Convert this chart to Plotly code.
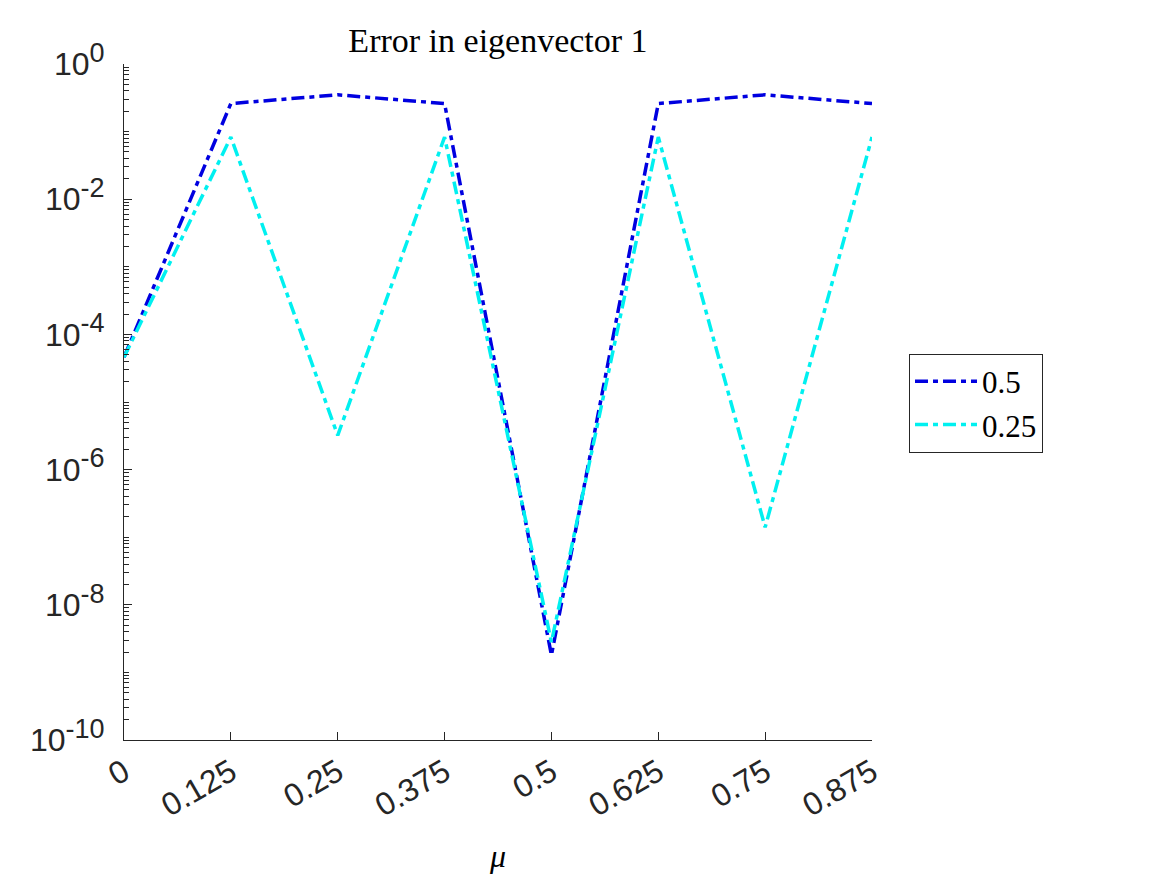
import plotly.graph_objects as go

# x values (mu) and errors for the two step sizes
mu = [0, 0.125, 0.25, 0.375, 0.5, 0.625, 0.75, 0.875]
tick_labels = ["0", "0.125", "0.25", "0.375", "0.5", "0.625", "0.75", "0.875"]
err_05 = [4.6e-5, 0.26, 0.35, 0.26, 1.8e-9, 0.26, 0.35, 0.26]
err_025 = [4.6e-5, 0.083, 3.2e-6, 0.083, 2.8e-9, 0.083, 1.4e-7, 0.083]

y_tickvals = [1e0, 1e-2, 1e-4, 1e-6, 1e-8, 1e-10]
y_exponents = ["0", "-2", "-4", "-6", "-8", "-10"]
y_ticktext = ["10<sup><span style='font-size:27px'>%s</span></sup>" % e for e in y_exponents]
# minor log ticks (2..9 of every decade, plus the unlabelled decades)
minor_vals = [m * 10.0 ** e for e in range(-10, 0) for m in range(1, 10)]

dash = "13px,5px,5px,5px"

fig = go.Figure()
fig.add_trace(go.Scatter(
    x=mu, y=err_05, mode='lines', name='0.5',
    line=dict(color='#0000e0', width=3.5, dash=dash)
))
fig.add_trace(go.Scatter(
    x=mu, y=err_025, mode='lines', name='0.25',
    line=dict(color='#00f0f0', width=3.5, dash=dash)
))
# invisible trace on the overlay axis so the minor ticks get drawn
fig.add_trace(go.Scatter(
    x=[mu[0]], y=[1e-5], yaxis='y2', mode='markers',
    marker=dict(opacity=0), showlegend=False, hoverinfo='skip'
))

axis_font = dict(family="Liberation Sans, Arial, sans-serif", size=32, color="#262626")

# page body adds an 8px offset, so margins are shifted by that much
fig.update_layout(
    width=1167, height=875,
    margin=dict(l=116, r=303, t=56, b=143),
    paper_bgcolor='white', plot_bgcolor='white',
    title=dict(text='Error in eigenvector 1', x=(116 + 864) / 2 / 1167, xanchor='center',
               y=1 - 32 / 875, yanchor='middle', yref='container',
               font=dict(family="Liberation Serif, serif", size=34, color='#000000')),
    xaxis=dict(
        range=[0, 0.875], tickvals=mu, ticktext=tick_labels, tickangle=-30,
        showline=True, linecolor='#262626', linewidth=1, mirror=False,
        ticks='inside', ticklen=8, tickcolor='#262626', showgrid=False, zeroline=False,
        tickfont=axis_font, automargin=False,
        title=dict(text='<i>μ</i>', standoff=22,
                   font=dict(family="Liberation Serif, serif", size=32, color='#000000')),
    ),
    yaxis=dict(
        type='log', range=[-10, 0], tickvals=y_tickvals, ticktext=y_ticktext,
        showline=True, linecolor='#262626', linewidth=1, mirror=False,
        ticks='inside', ticklen=8, tickcolor='#262626', showgrid=False, zeroline=False,
        tickfont=axis_font, automargin=False, ticklabelstandoff=12,
    ),
    yaxis2=dict(
        type='log', range=[-10, 0], overlaying='y', side='left',
        tickvals=minor_vals, showticklabels=False,
        ticks='inside', ticklen=5, tickcolor='#262626', tickwidth=1,
        showgrid=False, zeroline=False, showline=False, automargin=False,
    ),
    legend=dict(
        x=(909 - 124) / 748, xanchor='left', y=(740 - 403) / 676, yanchor='middle',
        bordercolor='#262626', borderwidth=1, bgcolor='white', itemwidth=62,
        font=dict(family="Liberation Serif, serif", size=31, color='#000000'),
    ),
)

fig.write_html("out.html")
